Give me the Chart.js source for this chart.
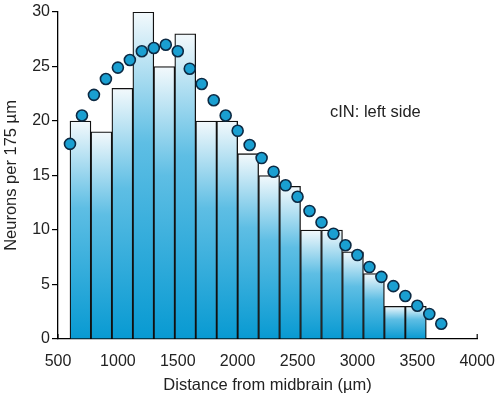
<!DOCTYPE html>
<html>
    <head>
        <meta charset="UTF-8">
        <title>cIN: left side</title>
        <script src="https://cdn.jsdelivr.net/npm/chart.js@4"></script>
        <style>
            body {
                margin: 0;
                background: #fff;
            }
            #wrap {
                width: 500px;
                height: 399px;
            }
        </style>
    </head>
    <body>
        <div id="wrap"><canvas id="chart"></canvas></div>
        <script>
            // histogram bins, 175 um wide, starting at 600 um
            const binStarts = [600, 775, 950, 1125, 1300, 1475, 1650, 1825, 2000, 2175, 2350, 2525, 2700, 2875, 3050, 3225, 3400];
            const binWidth = 175;
            const binCounts = [20, 19, 23, 30, 25, 28, 20, 20, 17, 15, 14, 10, 10, 8, 6, 3, 3];

            // averaged points every 100 um
            const pointX = [600, 700, 800, 900, 1000, 1100, 1200, 1300, 1400, 1500, 1600, 1700, 1800, 1900, 2000, 2100,
                            2200, 2300, 2400, 2500, 2600, 2700, 2800, 2900, 3000, 3100, 3200, 3300, 3400, 3500, 3600, 3700];
            const pointY = [17.9, 20.5, 22.4, 23.85, 24.9, 25.6, 26.4, 26.7, 27.0, 26.4, 24.8, 23.4, 21.9, 20.5, 19.1, 17.8,
                            16.6, 15.35, 14.1, 13.05, 11.75, 10.7, 9.65, 8.6, 7.7, 6.6, 5.7, 4.85, 3.95, 3.05, 2.3, 1.4];

            const xTicks = [500, 1000, 1500, 2000, 2500, 3000, 3500, 4000];
            const yTicks = [0, 5, 10, 15, 20, 25, 30];
            const label = 'cIN: left side';

            const font = "'Liberation Sans', Arial, sans-serif";

            function barFill(ctx) {
                const chart = ctx.chart;
                if (!chart.chartArea || !ctx.parsed) return '#3ab0dc';
                const y = chart.scales.y;
                const top = y.getPixelForValue(ctx.parsed.y);
                const bottom = y.getPixelForValue(0);
                if (!isFinite(top) || bottom - top < 1) return '#3ab0dc';
                const g = chart.ctx.createLinearGradient(0, top, 0, bottom);
                g.addColorStop(0, '#f3f9fc');
                g.addColorStop(0.4, '#5ebee4');
                g.addColorStop(1, '#089ad2');
                return g;
            }

            // small inward ticks on the x axis and the text label
            const extras = {
                id: 'extras',
                beforeDatasetsDraw(chart) {
                    const c = chart.ctx, x = chart.scales.x, y = chart.scales.y;
                    c.save();
                    c.strokeStyle = '#000';
                    c.lineWidth = 1.2;
                    xTicks.forEach(v => {
                        const px = x.getPixelForValue(v);
                        c.beginPath();
                        c.moveTo(px, y.bottom);
                        c.lineTo(px, y.bottom - 5);
                        c.stroke();
                    });
                    c.restore();
                },
                afterDraw(chart) {
                    const c = chart.ctx, x = chart.scales.x, y = chart.scales.y;
                    c.save();
                    c.fillStyle = '#222';
                    c.font = '16.5px ' + font;
                    c.textAlign = 'center';
                    c.textBaseline = 'middle';
                    c.fillText(label, x.getPixelForValue(3150), y.getPixelForValue(20.8));
                    c.restore();
                }
            };

            new Chart(document.getElementById('chart'), {
                type: 'bar',
                data: {
                    datasets: [{
                        type: 'scatter',
                        data: pointX.map((v, i) => ({ x: v, y: pointY[i] })),
                        pointRadius: 5.5,
                        pointBackgroundColor: '#1a9fd1',
                        pointBorderColor: '#0c2a44',
                        pointBorderWidth: 1.6,
                        order: 0
                    }, {
                        type: 'bar',
                        data: binStarts.map((v, i) => ({ x: v + binWidth / 2, y: binCounts[i] })),
                        backgroundColor: barFill,
                        borderColor: '#111',
                        borderWidth: 1.3,
                        borderSkipped: 'bottom',
                        barPercentage: 1,
                        categoryPercentage: 1,
                        grouped: false,
                        order: 1
                    }]
                },
                options: {
                    responsive: true,
                    maintainAspectRatio: false,
                    animation: false,
                    layout: { padding: { top: 12, right: 22, left: 0, bottom: 0 } },
                    plugins: {
                        legend: { display: false },
                        tooltip: { enabled: false }
                    },
                    scales: {
                        x: {
                            type: 'linear',
                            offset: false,
                            min: 500,
                            max: 4000,
                            afterBuildTicks: s => { s.ticks = xTicks.map(v => ({ value: v })); },
                            afterFit: s => { s.height = 60; },
                            grid: { display: false },
                            border: { display: true, color: '#000', width: 1.3 },
                            ticks: { color: '#222', font: { family: font, size: 16 }, padding: 5, maxRotation: 0, callback: v => String(v) },
                            title: {
                                display: true,
                                text: 'Distance from midbrain (µm)',
                                color: '#222',
                                font: { family: font, size: 16.5 },
                                padding: { top: 3, bottom: 4 }
                            }
                        },
                        y: {
                            min: 0,
                            max: 30,
                            afterBuildTicks: s => { s.ticks = yTicks.map(v => ({ value: v })); },
                            afterFit: s => { s.width = 58; },
                            grid: { display: true, drawOnChartArea: false, drawTicks: true, tickLength: 6, color: '#000', lineWidth: 1.2 },
                            border: { display: true, color: '#000', width: 1.3 },
                            ticks: { color: '#222', font: { family: font, size: 16 }, padding: 2, callback: v => String(v) },
                            title: {
                                display: true,
                                text: 'Neurons per 175 µm',
                                color: '#222',
                                font: { family: font, size: 16.5 },
                                padding: { top: 2, bottom: 4 }
                            }
                        }
                    }
                },
                plugins: [extras]
            });
        </script>
    </body>
</html>
